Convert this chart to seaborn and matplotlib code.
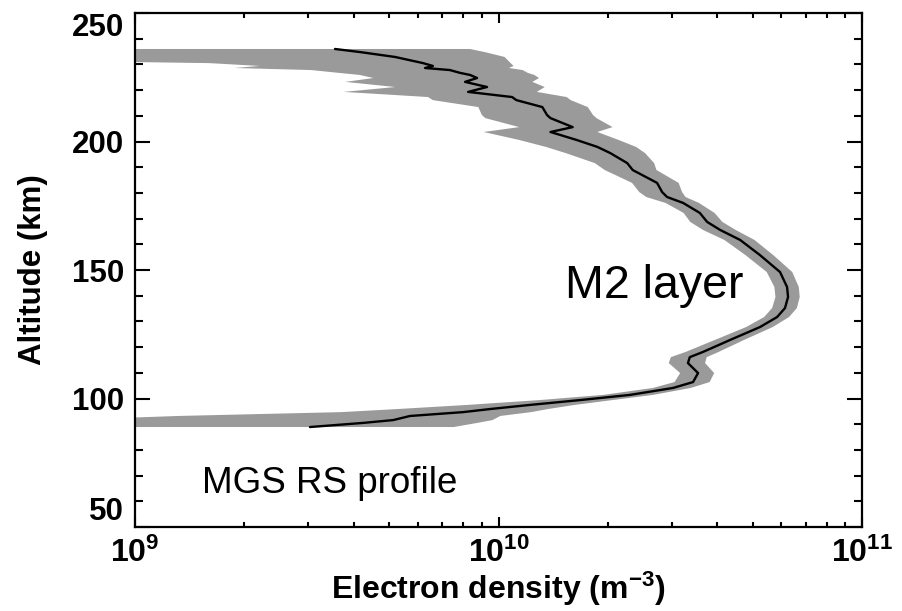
import numpy as np
import pandas as pd
import matplotlib
matplotlib.use("Agg")
import matplotlib.pyplot as plt
import seaborn as sns

# Electron density profile (MGS radio science), altitude in km,
# density and 1-sigma uncertainty in units of 1e9 m^-3
altitude = [236.0, 234.8, 232.9, 230.5, 229.4, 228.6, 227.8, 226.7, 225.9, 224.7,
            223.2, 221.2, 219.3, 217.3, 216.1, 213.4, 210.3, 209.1, 205.6, 203.7,
            200.6, 197.9, 195.5, 191.6, 188.9, 183.9, 180.3, 178.4, 176.1, 172.2,
            168.7, 165.6, 161.7, 155.8, 149.2, 143.4, 139.5, 135.2, 131.7, 127.8,
            122.8, 118.1, 116.1, 113.8, 109.9, 106.4, 104.1, 101.4, 99.4, 97.5,
            95.9, 94.7, 93.2, 91.6, 90.5, 88.9]
density = [3.55, 4.16, 5.19, 6.20, 6.60, 6.28, 7.35, 7.84, 8.35, 8.73,
           8.09, 9.30, 8.25, 10.9, 11.2, 13.2, 13.6, 13.9, 16.0, 13.9,
           16.4, 18.7, 20.3, 22.6, 23.4, 27.3, 28.2, 29.1, 32.2, 35.8,
           37.5, 40.7, 46.2, 52.4, 59.5, 62.2, 62.6, 61.4, 58.4, 52.4,
           43.4, 36.5, 33.6, 33.2, 35.4, 34.3, 30.2, 23.0, 16.8, 12.2,
           9.48, 7.99, 5.71, 5.13, 4.24, 3.03]
sigma = [4.8, 5.0, 5.2, 4.6, 4.4, 4.4, 4.3, 4.2, 4.2, 4.2,
         4.3, 4.1, 4.5, 4.5, 4.6, 4.4, 4.6, 4.7, 4.6, 4.8,
         5.0, 5.2, 5.0, 4.2, 3.8, 4.0, 3.8, 3.6, 3.4, 3.5,
         3.8, 4.2, 4.4, 4.6, 4.8, 4.8, 4.8, 4.8, 4.6, 4.4,
         4.0, 3.8, 3.8, 3.8, 3.8, 3.8, 3.6, 3.6, 3.8, 4.0,
         4.2, 4.3, 4.4, 4.5, 4.5, 4.5]

x_ticks = [1e9, 1e10, 1e11]
x_ticklabels = [r"$\mathrm{10^{9}}$", r"$\mathrm{10^{10}}$", r"$\mathrm{10^{11}}$"]
y_ticks = [50, 100, 150, 200, 250]

UNIT = 1e9
df = pd.DataFrame({
    "alt": altitude,
    "ne": np.asarray(density) * UNIT,
    "lo": (np.asarray(density) - np.asarray(sigma)) * UNIT,
    "hi": (np.asarray(density) + np.asarray(sigma)) * UNIT,
})
# values below the axis floor are simply drawn to the left edge
df["lo"] = df["lo"].clip(lower=1e8)

sns.set_style("ticks")
plt.rcParams["font.family"] = ["Liberation Sans", "DejaVu Sans"]
plt.rcParams["text.color"] = "black"
plt.rcParams["axes.labelcolor"] = "black"
plt.rcParams["xtick.color"] = "black"
plt.rcParams["ytick.color"] = "black"
plt.rcParams["mathtext.fontset"] = "custom"
plt.rcParams["mathtext.rm"] = "Liberation Sans:bold"
plt.rcParams["mathtext.bf"] = "Liberation Sans:bold"
plt.rcParams["mathtext.it"] = "Liberation Sans:bold"

fig = plt.figure(figsize=(9.03, 6.11), dpi=100)
ax = fig.add_axes([135 / 903, 1 - 527 / 611, 727 / 903, 514 / 611])

ax.fill_betweenx(df["alt"], df["lo"], df["hi"],
                 color="#9a9a9a", linewidth=0, zorder=1)
sns.lineplot(data=df, x="ne", y="alt", sort=False, estimator=None,
             color="black", linewidth=1.7, ax=ax, zorder=2)

ax.set_xscale("log")
ax.set_xlim(1e9, 1e11)
ax.set_ylim(50, 250)
ax.set_xticks(x_ticks)
ax.set_xticklabels(x_ticklabels)
ax.xaxis.set_minor_locator(matplotlib.ticker.LogLocator(base=10, subs=np.arange(2, 10)))
ax.xaxis.set_minor_formatter(matplotlib.ticker.NullFormatter())
ax.set_yticks(y_ticks)
ax.yaxis.set_minor_locator(matplotlib.ticker.MultipleLocator(10))

for side in ax.spines.values():
    side.set_linewidth(1.6)
    side.set_color("black")

ax.tick_params(axis="both", which="both", direction="in", top=True, right=True,
               color="black", width=1.5)
ax.tick_params(axis="y", which="major", length=11, labelsize=22.5, pad=8)
ax.tick_params(axis="y", which="minor", length=5.8)
ax.tick_params(axis="x", which="major", length=7.2, labelsize=23, pad=8)
ax.tick_params(axis="x", which="minor", length=3.6)
for lab in ax.get_yticklabels():
    lab.set_fontweight("bold")
ylabs = ax.get_yticklabels()
ylabs[0].set_verticalalignment("bottom")
ylabs[-1].set_verticalalignment("top")

ax.set_xlabel(r"Electron density (m$^{\mathrm{-3}}$)", fontsize=23,
              fontweight="bold", labelpad=0)
ax.set_ylabel("Altitude (km)", fontsize=22.5, fontweight="bold", labelpad=17)

ax.text(0.5915, 0.4455, "M2 layer", transform=ax.transAxes, fontsize=33.5,
        ha="left", va="baseline")
ax.text(0.0922, 0.066, "MGS RS profile", transform=ax.transAxes, fontsize=26.5,
        ha="left", va="baseline")

fig.savefig("out.png", dpi=100)
